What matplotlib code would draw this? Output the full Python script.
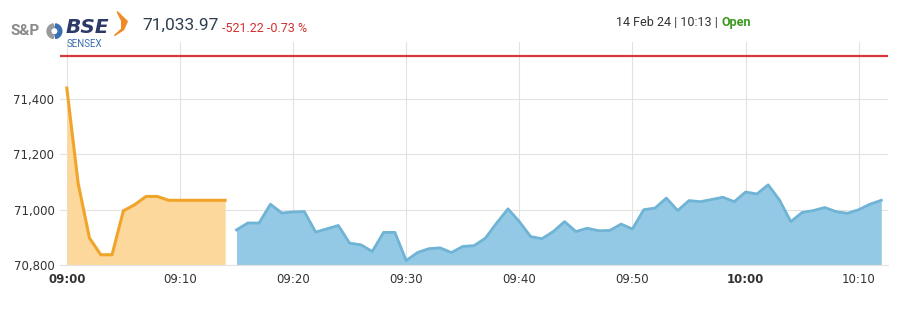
import numpy as np
import matplotlib.pyplot as plt
from matplotlib.patches import Polygon, Wedge

# minutes after 09:00
pre_minutes = list(range(0, 15))
pre_values = [71440, 71096, 70898, 70837, 70837, 70996, 71018, 71048, 71048,
              71034, 71034, 71034, 71034, 71034, 71034]

live_minutes = list(range(15, 73))
live_values = [70927, 70952, 70952, 71020, 70988, 70992, 70993, 70919, 70931, 70943,
               70879, 70873, 70849, 70918, 70918, 70816, 70845, 70859, 70862, 70845,
               70867, 70870, 70897, 70952, 71003, 70957, 70903, 70895, 70921, 70957,
               70921, 70933, 70924, 70925, 70948, 70930, 71000, 71006, 71042, 70997,
               71033, 71029, 71037, 71045, 71029, 71064, 71057, 71090, 71035, 70957,
               70990, 70997, 71008, 70993, 70987, 71000, 71020, 71034]

prev_close = 71555.19
y_ticks = [70800, 71000, 71200, 71400]
x_ticks = [0, 10, 20, 30, 40, 50, 60, 70]
x_labels = ["09:00", "09:10", "09:20", "09:30", "09:40", "09:50", "10:00", "10:10"]

fig = plt.figure(figsize=(9.15, 3.3), dpi=100)
fig.patch.set_facecolor("white")
ax = fig.add_axes([0.0656, 0.197, 0.905, 0.676])

base = 70800
ax.fill_between(pre_minutes, pre_values, base, color="#fdd89c", lw=0, zorder=2)
ax.plot(pre_minutes, pre_values, color="#f0a52a", lw=2.2, zorder=3)
ax.fill_between(live_minutes, live_values, base, color="#93c9e5", lw=0, zorder=2)
ax.plot(live_minutes, live_values, color="#6fb3d5", lw=2.0, zorder=3)

ax.plot([-0.5, 72.5], [prev_close, prev_close], color="#d8383b", lw=1.6, zorder=4)

ax.set_xlim(-0.6, 72.6)
ax.set_ylim(70800, 71607)
ax.set_yticks(y_ticks)
ax.set_yticklabels([f"{v:,}" for v in y_ticks])
ax.set_xticks(x_ticks)
ax.set_xticklabels(x_labels)
for lab in ax.get_xticklabels():
    if lab.get_text() in ("09:00", "10:00"):
        lab.set_fontweight("bold")
ax.tick_params(axis="both", length=0, labelsize=8.5, colors="#333333")
ax.tick_params(axis="y", pad=4)
ax.tick_params(axis="x", pad=6)
ax.grid(True, color="#e2e2e2", lw=0.8, zorder=0)
for s in ["top", "right", "left"]:
    ax.spines[s].set_visible(False)
ax.spines["bottom"].set_color("#e2e2e2")

# header: logo
fig.text(0.011, 0.905, "S&P", fontsize=11, fontweight="bold", color="#8a8a8a",
         family="Roboto", ha="left", va="center")
icon = fig.add_axes([0.0505, 0.878, 0.018, 0.055])
icon.set_aspect("equal")
icon.set_xlim(-1, 1)
icon.set_ylim(-1, 1)
icon.axis("off")
icon.add_patch(Wedge((0, 0), 0.9, 100, 260, width=0.45, color="#9a9a9a"))
icon.add_patch(Wedge((0, 0), 0.9, 280, 80, width=0.45, color="#3b6fb3"))
fig.text(0.072, 0.918, "BSE", fontsize=14.5, fontweight="bold", style="italic",
         color="#2b3a67", family="DejaVu Sans", ha="left", va="center")
fig.text(0.073, 0.866, "SENSEX", fontsize=7, color="#3a6fb0", family="Roboto",
         ha="left", va="center")
fig.patches.append(Polygon([(0.128, 0.965), (0.139, 0.935), (0.135, 0.91),
                            (0.125, 0.892), (0.133, 0.912), (0.133, 0.937)],
                           closed=True, transform=fig.transFigure, color="#f08a24"))

# header: price and status
fig.text(0.156, 0.922, "71,033.97", fontsize=12.5, color="#2f3f4f", family="Roboto",
         ha="left", va="center")
fig.text(0.243, 0.915, "-521.22 -0.73 %", fontsize=9, color="#d32f2f", family="Roboto",
         ha="left", va="center")
fig.text(0.785, 0.933, "14 Feb 24 | 10:13 |", fontsize=9, color="#333333",
         family="Roboto", ha="right", va="center")
fig.text(0.789, 0.933, "Open", fontsize=9, color="#3a9a1f", fontweight="bold",
         family="Roboto", ha="left", va="center")

fig.savefig("out.png", dpi=100, facecolor="white")
